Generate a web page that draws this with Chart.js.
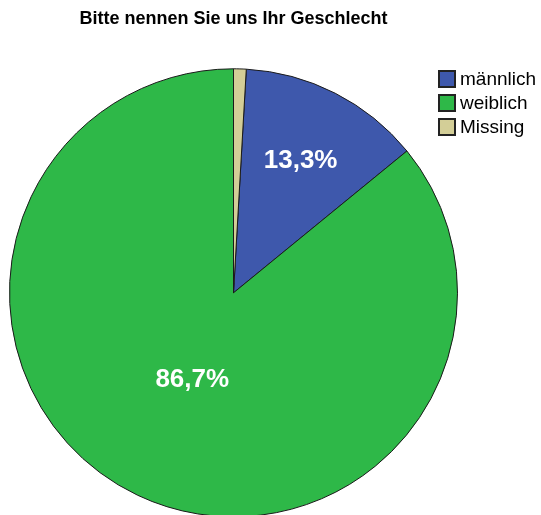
<!DOCTYPE html>
<html>
<head>
<meta charset="utf-8">
<script src="https://cdn.jsdelivr.net/npm/chart.js@4.4.1/dist/chart.umd.min.js"></script>
<style>
    html, body { margin: 0; padding: 0; background: #fff; overflow: hidden; }
    #wrap { position: relative; width: 541px; height: 526px; }
    #legend { position: absolute; left: 438px; top: 67px; font-family: "Liberation Sans", Arial, sans-serif; font-size: 19px; color: #000; }
    .item { display: flex; align-items: center; height: 24px; }
    .box { width: 14px; height: 14px; border: 2px solid #222; margin-right: 4px; }
</style>
</head>
<body>
<div id="wrap">
    <canvas id="pieChart"></canvas>
    <div id="legend"></div>
</div>
<script>
    // Data (counts estimated from the slice angles and valid percentages)
    const categories = ['männlich', 'weiblich', 'Missing'];
    const counts = [29, 189, 2];
    const colors = ['#3E58AC', '#2EB848', '#D3CE97'];
    const isValid = [true, true, false];

    const total = counts.reduce((a, b) => a + b, 0);
    const validTotal = counts.reduce((a, b, i) => a + (isValid[i] ? b : 0), 0);
    // Percent labels are based on valid answers only
    const pctLabels = counts.map((c, i) => isValid[i] ? (c / validTotal * 100).toFixed(1).replace('.', ',') + '%' : '');
    // Missing slice sits just left of 12 o'clock, so the pie starts after it
    const startAngle = 360 * counts[2] / total;
    // how far out along the slice the label goes
    const labelRadius = [0.66, 0.43, 0];

    const sliceLabels = {
        id: 'sliceLabels',
        afterDatasetsDraw(chart) {
            const ctx = chart.ctx;
            const meta = chart.getDatasetMeta(0);
            ctx.save();
            ctx.font = 'bold 26px "Liberation Sans", Arial, sans-serif';
            ctx.fillStyle = '#fff';
            ctx.textAlign = 'center';
            ctx.textBaseline = 'middle';
            meta.data.forEach((arc, i) => {
                if (!pctLabels[i]) return;
                const p = arc.getProps(['x', 'y', 'startAngle', 'endAngle', 'outerRadius'], true);
                const mid = (p.startAngle + p.endAngle) / 2;
                const r = p.outerRadius * labelRadius[i];
                ctx.fillText(pctLabels[i], p.x + Math.cos(mid) * r, p.y + Math.sin(mid) * r);
            });
            ctx.restore();
        }
    };

    const pieCtx = document.getElementById('pieChart').getContext('2d');
    new Chart(pieCtx, {
        type: 'pie',
        data: {
            labels: categories,
            datasets: [{
                data: counts,
                backgroundColor: colors,
                borderColor: '#1a1a1a',
                borderWidth: 1
            }]
        },
        options: {
            responsive: true,
            maintainAspectRatio: false,
            animation: false,
            rotation: startAngle,
            layout: {
                padding: { left: 9, right: 83, top: 0, bottom: 0 }
            },
            plugins: {
                legend: { display: false },
                tooltip: { enabled: false },
                title: {
                    display: true,
                    fullSize: false,
                    text: 'Bitte nennen Sie uns Ihr Geschlecht',
                    color: '#000',
                    font: { family: '"Liberation Sans", Arial, sans-serif', size: 18, weight: 'bold' },
                    padding: { top: 8, bottom: 30 }
                }
            }
        },
        plugins: [sliceLabels]
    });

    // HTML legend built from the same arrays
    const legend = document.getElementById('legend');
    categories.forEach((name, i) => {
        const row = document.createElement('div');
        row.className = 'item';
        const box = document.createElement('span');
        box.className = 'box';
        box.style.background = colors[i];
        row.appendChild(box);
        row.appendChild(document.createTextNode(name));
        legend.appendChild(row);
    });
</script>
</body>
</html>
